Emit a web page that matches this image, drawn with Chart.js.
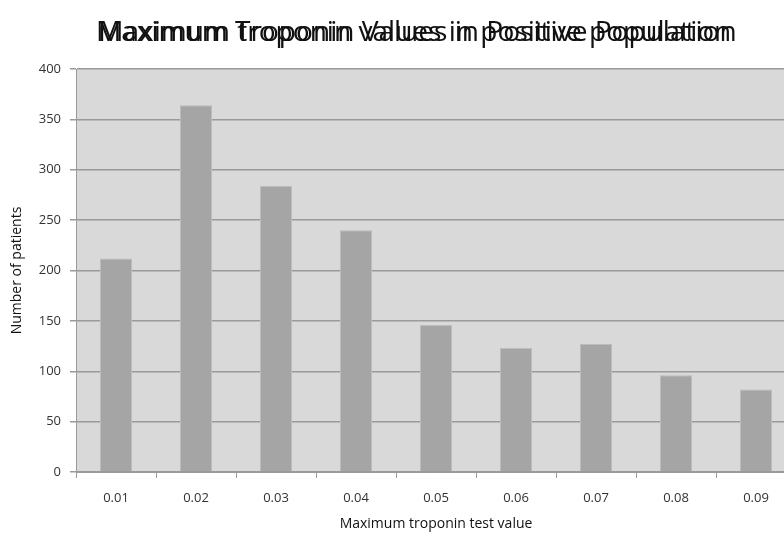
<!DOCTYPE html>
<html>
<head>
<meta charset="utf-8">
<script src="https://cdn.jsdelivr.net/npm/chart.js@4/dist/chart.umd.min.js"></script>
<style>
  html, body { margin: 0; padding: 0; background: #fff; overflow: hidden; }
  #wrap { width: 800px; height: 536px; position: relative; }
</style>
</head>
<body>
<div id="wrap"><canvas id="chart"></canvas></div>
<script>
// 数据
const categories = ['0.01', '0.02', '0.03', '0.04', '0.05', '0.06', '0.07', '0.08', '0.09'];
const patientCounts = [212, 364, 284, 240, 146, 123, 127, 96, 82];
const yTicks = [0, 50, 100, 150, 200, 250, 300, 350, 400];

const titleMain = 'Maximum Troponin Values in Positive Population';
const titleShadow = 'Maximum troponin values in positive population';

// 绘图区背景
const plotBackground = {
    id: 'plotBackground',
    beforeDraw(chart) {
        const { ctx, chartArea } = chart;
        ctx.save();
        ctx.fillStyle = '#d9d9d9';
        ctx.fillRect(chartArea.left, chartArea.top, chartArea.right - chartArea.left, chartArea.bottom - chartArea.top);
        ctx.restore();
    }
};

// 两层叠加的标题
const doubleTitle = {
    id: 'doubleTitle',
    afterDraw(chart) {
        const ctx = chart.ctx;
        ctx.save();
        ctx.fillStyle = '#111';
        ctx.textBaseline = 'alphabetic';
        ctx.textAlign = 'left';
        // 按目标宽度调整字号
        ctx.font = '26px "Open Sans"';
        const w = ctx.measureText(titleMain).width;
        const size = 26 * 641 / w;
        ctx.font = size + 'px "Open Sans"';
        ctx.fillText(titleMain, 96, 41);
        const w2 = ctx.measureText(titleShadow).width;
        ctx.fillText(titleShadow, 97 + (641 - w2) * 0.15, 41);
        ctx.restore();
    }
};

new Chart(document.getElementById('chart'), {
    type: 'bar',
    data: {
        labels: categories,
        datasets: [{
            label: 'Number of patients',
            data: patientCounts,
            backgroundColor: '#a5a5a5',
            borderColor: '#bcbcbc',
            borderWidth: 1,
            categoryPercentage: 1,
            barPercentage: 0.4
        }]
    },
    options: {
        responsive: true,
        maintainAspectRatio: false,
        animation: false,
        layout: { padding: { top: 69, right: 4, left: 0, bottom: 0 } },
        plugins: {
            legend: { display: false },
            title: { display: false },
            tooltip: { enabled: false }
        },
        scales: {
            x: {
                afterFit(scale) { scale.height = 64; },
                grid: {
                    offset: true,
                    drawOnChartArea: false,
                    color: '#9a9a9a',
                    tickLength: 6
                },
                border: { color: '#9a9a9a', width: 1 },
                ticks: {
                    color: '#333',
                    padding: 12,
                    font: { family: 'Open Sans', size: 13 }
                },
                title: {
                    display: true,
                    text: 'Maximum troponin test value',
                    color: '#111',
                    font: { family: 'Open Sans', size: 14 },
                    padding: { top: 4, bottom: 4 }
                }
            },
            y: {
                min: 0,
                max: 400,
                afterFit(scale) { scale.width = 76; },
                afterBuildTicks(scale) { scale.ticks = yTicks.map(v => ({ value: v })); },
                grid: {
                    color: '#9a9a9a',
                    lineWidth: 1.5,
                    tickLength: 6
                },
                border: { color: '#9a9a9a', width: 1 },
                ticks: {
                    color: '#333',
                    padding: 9,
                    font: { family: 'Open Sans', size: 13 }
                },
                title: {
                    display: true,
                    text: 'Number of patients',
                    color: '#111',
                    font: { family: 'Open Sans', size: 14 },
                    padding: { top: 9, bottom: 0 }
                }
            }
        }
    },
    plugins: [plotBackground, doubleTitle]
});
</script>
</body>
</html>
